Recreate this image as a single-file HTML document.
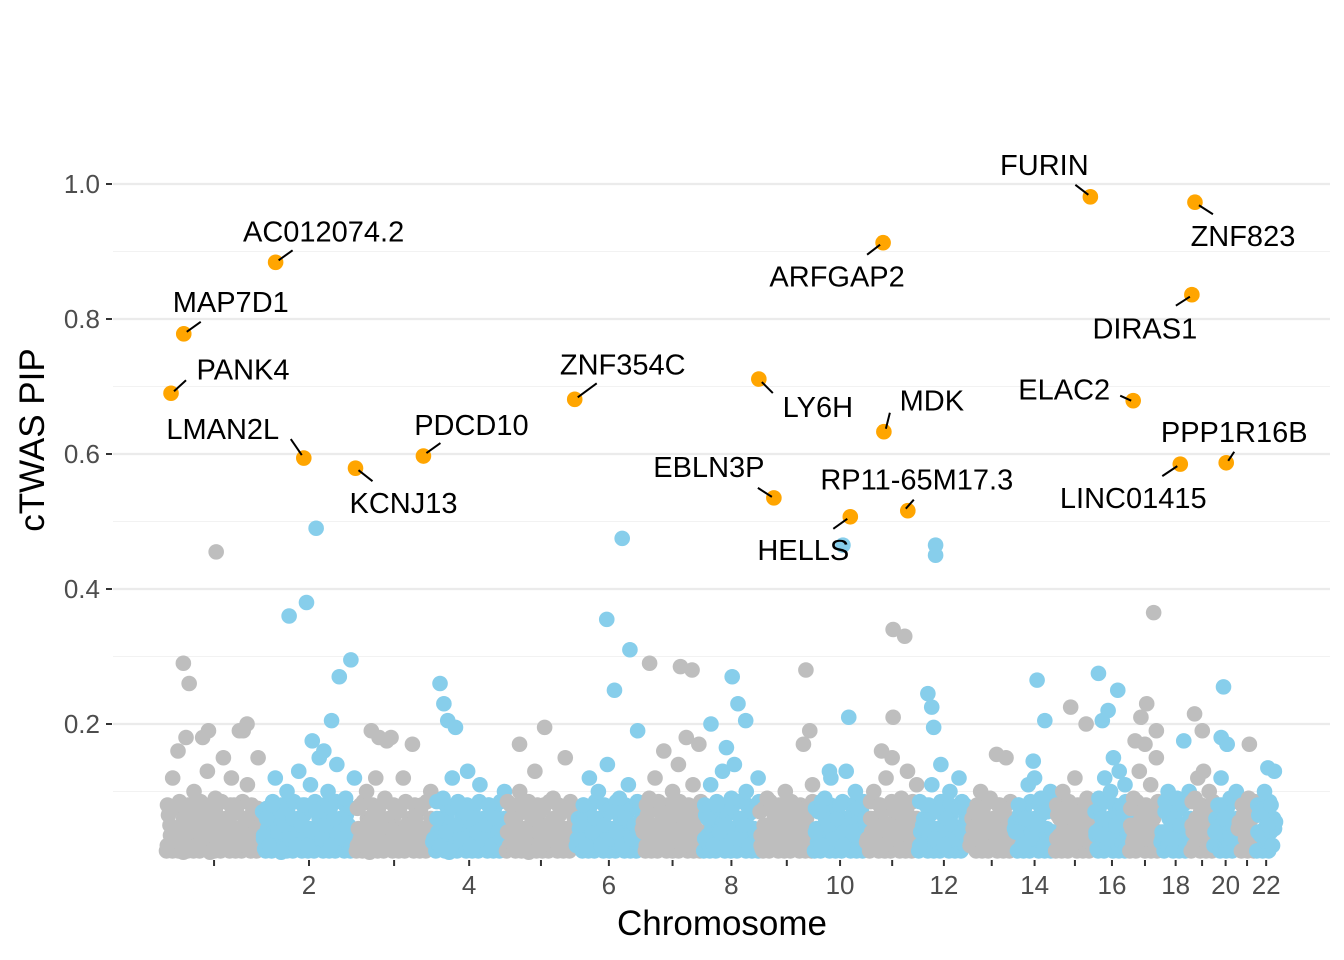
<!DOCTYPE html>
<html><head><meta charset="utf-8"><style>
html,body{margin:0;padding:0;background:#fff;}
svg{display:block;font-family:"Liberation Sans",Arial,sans-serif;}
</style></head><body>
<svg id="chart" width="1344" height="960" viewBox="0 0 1344 960">
<g id="grid"></g>
<g id="yaxis"></g>
<g id="xaxis"></g>
<g id="points"></g>
<g id="labels"></g>
<text x="722" y="935" text-anchor="middle" font-size="35" fill="#000">Chromosome</text>
<text transform="translate(44,440) rotate(-90)" text-anchor="middle" font-size="35" fill="#000">cTWAS PIP</text>
</svg>
<script>
const chromLengths=[249,243,198,191,181,171,159,146,141,135,135,133,115,107,102,90,81,78,59,63,48,51];
const yTicks=[0.2,0.4,0.6,0.8,1.0];
const yTickLabels=["0.2","0.4","0.6","0.8","1.0"];
const xTickLabels=["","2","","4","","6","","8","","10","","12","","14","","16","","18","","20","","22"];
const lowBand=[.012,.045,.02,.07,.03,.055,.012,.04,.08,.025,.06,.035,.012,.05,.075,.02,.065,.03,.045,.015,.085];
const bg=[
[.02,.05,.12,.03,.16,.08,.01,.18,.04,.06,.1,.02,.07,.03,.05,.13,.01,.04,.09,.02,.06,.15,.03,.05,.12,.08,.02,.19,.04,.06,.11,.03,.07,.02,.15,.05],
[.03,.06,.02,.08,.12,.04,.01,.05,.1,.03,.06,.02,.13,.05,.08,.02,.11,.04,.07,.15,.03,.05,.1,.02,.06,.14,.04,.03,.09,.05,.02,.12],
[.02,.08,.04,.1,.01,.05,.12,.03,.06,.09,.02,.18,.04,.07,.03,.12,.05,.02,.17,.06,.03,.08,.04,.02,.1],
[.03,.06,.02,.09,.04,.01,.12,.05,.08,.03,.07,.13,.02,.06,.04,.11,.03,.05,.08,.02,.06,.04,.03,.1],
[.04,.08,.02,.05,.1,.03,.07,.01,.06,.13,.04,.02,.08,.05,.03,.09,.06,.02,.04,.15,.03,.07,.05],
[.03,.05,.08,.02,.12,.04,.06,.1,.02,.05,.14,.03,.07,.04,.09,.02,.06,.11,.03,.05,.04,.08],
[.04,.02,.09,.05,.12,.03,.07,.16,.02,.06,.1,.04,.14,.03,.08,.05,.02,.11,.06,.17,.03],
[.03,.06,.11,.02,.08,.04,.13,.05,.02,.09,.14,.03,.06,.05,.1,.02,.07,.04,.12],
[.02,.05,.09,.03,.07,.04,.02,.06,.1,.03,.05,.08,.02,.04,.17,.06,.03,.11],
[.04,.07,.02,.09,.05,.12,.03,.06,.08,.02,.13,.05,.04,.1,.03,.07,.06],
[.03,.06,.1,.04,.08,.02,.12,.05,.15,.03,.07,.09,.04,.13,.02,.06,.11],
[.02,.05,.08,.04,.11,.03,.07,.14,.02,.06,.1,.05,.03,.12,.04,.08,.06],
[.03,.07,.04,.1,.02,.06,.09,.05,.03,.08,.04,.15,.06,.02],
[.04,.08,.02,.06,.11,.03,.12,.05,.09,.02,.07,.1,.04],
[.03,.06,.1,.04,.08,.02,.12,.05,.07,.03,.09,.06,.04],
[.04,.09,.06,.12,.03,.1,.15,.05,.13,.08,.11,.06],
[.05,.09,.03,.13,.07,.17,.04,.11,.06,.15,.08],
[.04,.07,.1,.03,.06,.09,.05,.08,.02,.1],
[.05,.09,.12,.07,.13,.06,.1,.08],
[.04,.08,.12,.06,.17,.09,.05,.1],
[.05,.08,.03,.09,.06,.04],
[.04,.07,.1,.05,.08,.13]
];
const hitChrom=[1,1,1,1,1,1,1,2,2,2,2,2,2,2,2,3,3,3,4,4,4,4,5,5,6,6,6,6,6,7,7,7,7,8,8,8,8,8,9,9,10,10,10,11,11,11,11,12,12,12,12,12,13,14,14,14,15,15,16,16,16,16,17,17,17,17,17,18,19,19,20,20,20,21,22];
const hitPos=[130,45,60,210,110,95,200,140,115,70,230,200,180,130,160,40,60,80,20,40,30,60,100,35,120,80,140,100,160,20,100,130,115,75,90,20,110,60,120,130,75,90,40,70,100,70,40,45,45,25,35,40,70,60,80,50,40,80,10,60,35,20,63,45,30,70,15,60,10,30,26,20,35,30,30];
const hitPip=[0.455,0.29,0.26,0.2,0.19,0.18,0.19,0.49,0.38,0.36,0.295,0.27,0.205,0.175,0.16,0.19,0.18,0.175,0.26,0.205,0.23,0.195,0.195,0.17,0.475,0.355,0.31,0.25,0.19,0.29,0.285,0.28,0.18,0.27,0.23,0.2,0.205,0.165,0.28,0.19,0.465,0.21,0.13,0.34,0.33,0.21,0.16,0.465,0.45,0.245,0.225,0.195,0.155,0.265,0.205,0.145,0.225,0.2,0.275,0.25,0.22,0.205,0.365,0.23,0.21,0.19,0.175,0.175,0.215,0.19,0.255,0.18,0.17,0.17,0.135];
const geneNames=["PANK4","MAP7D1","AC012074.2","LMAN2L","KCNJ13","PDCD10","ZNF354C","LY6H","EBLN3P","HELLS","ARFGAP2","MDK","RP11-65M17.3","FURIN","ELAC2","ZNF823","DIRAS1","LINC01415","PPP1R16B"];
const geneChrom=[1,1,2,2,2,3,5,8,9,10,11,11,11,15,17,19,19,18,20];
const genePos=[13,46,35,108,242,175,178,144,37,94,44,46,108,91,10,11,3,51,33];
const genePip=[0.690,0.778,0.884,0.594,0.579,0.597,0.681,0.711,0.535,0.507,0.913,0.633,0.516,0.981,0.679,0.973,0.836,0.585,0.587];
const lab={PANK4:[72,-24,3,-2,15,-13],MAP7D1:[47,-32,3,-2,17,-12],"AC012074.2":[48,-31,3,-2,17,-12],LMAN2L:[-81,-29,-13,-19,-2,-3],KCNJ13:[48,35,3,2,17,13],PDCD10:[48,-31,3,-3,17,-13],ZNF354C:[48,-35,3,-2,22,-16],LY6H:[59,28,3,3,14,14],EBLN3P:[-65,-31,-16,-10,-2,-1],HELLS:[-47,33,-17,12,-3,2],ARFGAP2:[-46,34,-16,12,-3,2],MDK:[48,-31,2,-3,6,-19],"RP11-65M17.3":[9,-31,-2,-2,6,-11],FURIN:[-46,-32,-15,-12,-2,-2],ELAC2:[-69,-11,-13,-5,-2,0],ZNF823:[48,34,4,3,18,12],DIRAS1:[-47,34,-16,11,-2,2],LINC01415:[-47,34,-18,12,-3,2],PPP1R16B:[8,-31,2,-2,8,-11]};

const NS="http://www.w3.org/2000/svg";
const cum=[0];chromLengths.forEach(l=>cum.push(cum[cum.length-1]+l));
const total=cum[cum.length-1];
const X0=166,X1=1276,Y0=859,PY=675,R=7.8;
const gx=(c,p)=>X0+(cum[c-1]+p)/total*(X1-X0);
const gy=v=>Y0-v*PY;
function mk(tag,attrs,parent){const e=document.createElementNS(NS,tag);for(const k in attrs)e.setAttribute(k,attrs[k]);parent.appendChild(e);return e;}
const grid=document.getElementById('grid'),ya=document.getElementById('yaxis'),xa=document.getElementById('xaxis'),pts=document.getElementById('points'),lb=document.getElementById('labels');
for(let v=0.1;v<1.06;v+=0.2){const l=mk('line',{x1:113,x2:1330,y1:gy(v),y2:gy(v),stroke:'#f2f2f2','stroke-width':1.1},grid);

}
yTicks.forEach((v,i)=>{const l=mk('line',{x1:113,x2:1330,y1:gy(v),y2:gy(v),stroke:'#ebebeb','stroke-width':2.2},grid);


const t=mk('line',{x1:106,x2:112,y1:gy(v),y2:gy(v),stroke:'#333','stroke-width':2},ya);


const tx=mk('text',{x:100,y:gy(v)+9,'text-anchor':'end','font-size':26,fill:'#4d4d4d'},ya);tx.textContent=yTickLabels[i];

});
chromLengths.forEach((L,i)=>{const x=gx(i+1,L/2);
const t=mk('line',{x1:x,x2:x,y1:860,y2:866,stroke:'#333','stroke-width':2},xa);


if(xTickLabels[i]){const tx=mk('text',{x:x,y:894,'text-anchor':'middle','font-size':26,fill:'#4d4d4d'},xa);tx.textContent=xTickLabels[i];

}});
const col=c=>c%2===1?'#bebebe':'#87ceeb';
bg.forEach((arr,i)=>{const L=chromLengths[i];
const nFill=Math.round(L/2.6);
for(let j=0;j<nFill;j++){const v=lowBand[(j*8+i*3)%lowBand.length];
const c=mk('circle',{cx:gx(i+1,(j+0.5)/nFill*L),cy:gy(v),r:R,fill:col(i+1)},pts);

}
arr.forEach((v,j)=>{
const c=mk('circle',{cx:gx(i+1,(j+0.5)/arr.length*L),cy:gy(v),r:R,fill:col(i+1)},pts);

});
hitChrom.forEach((hc,k)=>{if(hc===i+1){const c=mk('circle',{cx:gx(hc,hitPos[k]),cy:gy(hitPip[k]),r:R,fill:col(hc)},pts);

}});});
geneNames.forEach((n,k)=>{const px=gx(geneChrom[k],genePos[k]),py=gy(genePip[k]);const o=lab[n];
const c=mk('circle',{cx:px,cy:py,r:R,fill:'#ffa500'},pts);


const s=mk('line',{x1:px+o[2],y1:py+o[3],x2:px+o[4],y2:py+o[5],stroke:'#000','stroke-width':2},lb);


const t=mk('text',{x:px+o[0],y:py+o[1]+10,'text-anchor':'middle','font-size':29,fill:'#000'},lb);t.textContent=n;

});
</script>
</body></html>
